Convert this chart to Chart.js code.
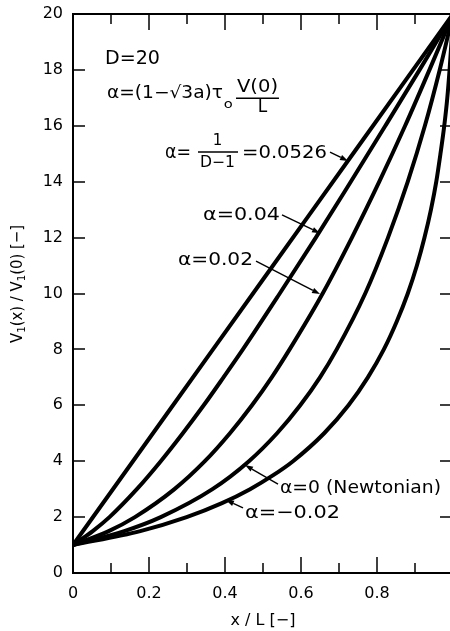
<!DOCTYPE html>
<html><head><meta charset="utf-8">
<script src="https://cdn.jsdelivr.net/npm/chart.js@4.4.1/dist/chart.umd.min.js"></script>
<style>
html,body{margin:0;padding:0;overflow:hidden;background:#fff;width:450px;height:631px;}
#wrap{width:456px;height:631px;position:relative;}
canvas{display:block;}
</style></head><body>
<div id="wrap"><canvas id="c" width="456" height="631"></canvas></div>
<script>
// ---- data ----
const xTickLabels = ['0', '0.2', '0.4', '0.6', '0.8', ''];
const yTickLabels = ['0', '2', '4', '6', '8', '10', '12', '14', '16', '18', '20'];
const seriesNames = ['α = 1/(D−1) = 0.0526', 'α = 0.04', 'α = 0.02', 'α = 0 (Newtonian)', 'α = −0.02'];

const xA0526 = [0, 0.25, 0.5, 0.75, 1];
const vA0526 = [1, 5.75, 10.5, 15.25, 20];

const xA004 = [0, 0.052, 0.096, 0.168, 0.231, 0.289, 0.344, 0.396, 0.447, 0.544, 0.639, 0.731, 0.822, 0.912, 1];
const vA004 = [1, 1.5, 2, 3, 4, 5, 6, 7, 8, 10, 12, 14, 16, 18, 20];

const xA002 = [0, 0.094, 0.163, 0.267, 0.347, 0.413, 0.471, 0.523, 0.570, 0.657, 0.734, 0.806, 0.874, 0.938, 1];
const vA002 = [1, 1.5, 2, 3, 4, 5, 6, 7, 8, 10, 12, 14, 16, 18, 20];

const xA000 = [0, 0.135, 0.231, 0.367, 0.463, 0.537, 0.598, 0.650, 0.694, 0.769, 0.829, 0.881, 0.926, 0.965, 1];
const vA000 = [1, 1.5, 2, 3, 4, 5, 6, 7, 8, 10, 12, 14, 16, 18, 20];

const xAm002 = [0, 0.177, 0.299, 0.392, 0.466, 0.527, 0.579, 0.661, 0.725, 0.776, 0.818, 0.852, 0.881, 0.905, 0.925, 0.942, 0.956, 0.967, 0.977, 0.985, 0.991, 0.996, 1];
const vAm002 = [1, 1.5, 2, 2.5, 3, 3.5, 4, 5, 6, 7, 8, 9, 10, 11, 12, 13, 14, 15, 16, 17, 18, 19, 20];

const curves = [[xA0526, vA0526], [xA004, vA004], [xA002, vA002], [xA000, vA000], [xAm002, vAm002]];

// ---- drawing ----
const FONT = 'DejaVu Sans';

function fitText(ctx, str, x, y, size, w, center) {
  ctx.save();
  ctx.font = size + 'px "' + FONT + '"';
  ctx.textBaseline = 'middle';
  ctx.textAlign = 'left';
  ctx.fillStyle = '#000';
  const m = ctx.measureText(str).width;
  const s = w ? w / m : 1;
  ctx.translate(x, y);
  ctx.scale(s, 1);
  ctx.fillText(str, center ? -m / 2 : 0, 0);
  ctx.restore();
}

function arrow(ctx, x1, y1, x2, y2) {
  ctx.save();
  ctx.strokeStyle = '#000'; ctx.fillStyle = '#000'; ctx.lineWidth = 1.4;
  const a = Math.atan2(y2 - y1, x2 - x1);
  const hl = 8, hw = 2.8;
  const bx = x2 - hl * Math.cos(a), by = y2 - hl * Math.sin(a);
  ctx.beginPath(); ctx.moveTo(x1, y1); ctx.lineTo(bx, by); ctx.stroke();
  ctx.beginPath();
  ctx.moveTo(x2, y2);
  ctx.lineTo(bx + hw * Math.sin(a), by - hw * Math.cos(a));
  ctx.lineTo(bx - hw * Math.sin(a), by + hw * Math.cos(a));
  ctx.closePath(); ctx.fill();
  ctx.restore();
}

const decor = {
  id: 'decor',
  afterDatasetsDraw(chart) {
    const ctx = chart.ctx;
    const xs = chart.scales.x, ys = chart.scales.y;
    const ca = chart.chartArea;
    const PX = v => xs.getPixelForValue(v);
    const PY = v => ys.getPixelForValue(v);
    ctx.save();
    ctx.strokeStyle = '#000';
    // frame top and right
    ctx.lineWidth = 2;
    ctx.beginPath(); ctx.moveTo(ca.left, ca.top); ctx.lineTo(ca.right, ca.top); ctx.lineTo(ca.right, ca.bottom); ctx.stroke();
    // inward ticks
    ctx.lineWidth = 1.5;
    ys.ticks.forEach(t => {
      const p = Math.round(PY(t.value));
      ctx.beginPath(); ctx.moveTo(ca.left, p); ctx.lineTo(ca.left + 12, p); ctx.stroke();
      ctx.beginPath(); ctx.moveTo(ca.right, p); ctx.lineTo(ca.right - 13, p); ctx.stroke();
    });
    for (let k = 1; k < 10; k++) {
      const p = Math.round(PX(k / 10));
      const len = k % 2 === 0 ? 16 : 10;
      ctx.beginPath(); ctx.moveTo(p, ca.bottom); ctx.lineTo(p, ca.bottom - len); ctx.stroke();
      ctx.beginPath(); ctx.moveTo(p, ca.top); ctx.lineTo(p, ca.top + len); ctx.stroke();
    }
    ctx.restore();

    // annotations
    fitText(ctx, 'D=20', PX(0.0842), PY(18.39), 20, 55);
    fitText(ctx, 'α=(1−√3a)τ', PX(0.0895), PY(17.14), 17, 116);
    fitText(ctx, 'o', PX(0.397), PY(16.74), 12, 9);
    fitText(ctx, 'V(0)', PX(0.4316), PY(17.35), 17, 41);
    ctx.save(); ctx.lineWidth = 1.5; ctx.strokeStyle = '#000';
    ctx.beginPath(); ctx.moveTo(PX(0.429), PY(16.99)); ctx.lineTo(PX(0.542), PY(16.99)); ctx.stroke();
    ctx.restore();
    fitText(ctx, 'L', PX(0.4987), PY(16.64), 17, 0, true);

    fitText(ctx, 'α=', PX(0.2421), PY(15.03), 20, 26);
    fitText(ctx, '1', PX(0.3803), PY(15.46), 15, 0, true);
    ctx.save(); ctx.lineWidth = 1.5; ctx.strokeStyle = '#000';
    ctx.beginPath(); ctx.moveTo(PX(0.3289), PY(15.06)); ctx.lineTo(PX(0.4342), PY(15.06)); ctx.stroke();
    ctx.restore();
    fitText(ctx, 'D−1', PX(0.3803), PY(14.65), 15, 35, true);
    fitText(ctx, '=0.0526', PX(0.4447), PY(15.03), 18, 85);
    arrow(ctx, PX(0.6763), PY(15.06), PX(0.7237), PY(14.74));

    fitText(ctx, 'α=0.04', PX(0.3421), PY(12.81), 18, 77);
    arrow(ctx, PX(0.55), PY(12.81), PX(0.65), PY(12.16));

    fitText(ctx, 'α=0.02', PX(0.2763), PY(11.2), 18, 75);
    arrow(ctx, PX(0.4816), PY(11.16), PX(0.65), PY(9.98));

    fitText(ctx, 'α=0 (Newtonian)', PX(0.5447), PY(3.04), 18, 161);
    arrow(ctx, PX(0.5395), PY(3.18), PX(0.4526), PY(3.86));

    fitText(ctx, 'α=−0.02', PX(0.4526), PY(2.147), 18, 95);
    arrow(ctx, PX(0.4474), PY(2.33), PX(0.4026), PY(2.61));

    // y-axis title (rotated, with subscripts)
    const parts = [['V', 16, 0], ['1', 11, 4], ['(x) / V', 16, 0], ['1', 11, 4], ['(0) [−]', 16, 0]];
    ctx.save();
    let total = 0;
    parts.forEach(p => { ctx.font = p[1] + 'px "' + FONT + '"'; total += ctx.measureText(p[0]).width; });
    const sc = 118 / total;
    ctx.translate(18, 343);
    ctx.rotate(-Math.PI / 2);
    ctx.scale(sc, 1);
    ctx.fillStyle = '#000';
    ctx.textBaseline = 'middle';
    let cx = 0;
    parts.forEach(p => {
      ctx.font = p[1] + 'px "' + FONT + '"';
      ctx.fillText(p[0], cx, p[2]);
      cx += ctx.measureText(p[0]).width;
    });
    ctx.restore();
  }
};

const datasets = curves.map((c, i) => ({
  label: seriesNames[i],
  data: c[0].map((x, j) => ({ x: x, y: c[1][j] })),
  borderColor: '#000',
  borderWidth: 4,
  pointRadius: 0,
  fill: false,
  cubicInterpolationMode: 'monotone',
  clip: 0
}));

const hiddenGrid = (len) => ({ display: true, drawOnChartArea: false, drawTicks: true, tickLength: len, color: 'rgba(0,0,0,0)' });

new Chart(document.getElementById('c'), {
  type: 'line',
  data: { datasets },
  options: {
    responsive: false,
    animation: false,
    layout: { padding: { top: 14, right: 3, left: 0, bottom: 0 } },
    plugins: { legend: { display: false }, tooltip: { enabled: false } },
    scales: {
      x: {
        type: 'linear', min: 0, max: 1,
        grid: hiddenGrid(11),
        border: { display: true, color: '#000', width: 2 },
        ticks: {
          stepSize: 0.2, autoSkip: false, maxRotation: 0, color: '#000', padding: 0,
          font: { family: FONT, size: 16 },
          callback: (v, i) => xTickLabels[i]
        },
        title: { display: true, text: 'x / L [−]', color: '#000', font: { family: FONT, size: 16 }, padding: { top: 0, bottom: 1 } },
        afterFit: s => { s.height = 58; }
      },
      y: {
        min: 0, max: 20,
        grid: hiddenGrid(10),
        border: { display: true, color: '#000', width: 2 },
        ticks: {
          stepSize: 2, color: '#000', padding: 0,
          font: { family: FONT, size: 16 },
          callback: (v, i) => yTickLabels[i]
        },
        afterFit: s => { s.width = 73; }
      }
    }
  },
  plugins: [decor]
});
</script>
</body></html>
